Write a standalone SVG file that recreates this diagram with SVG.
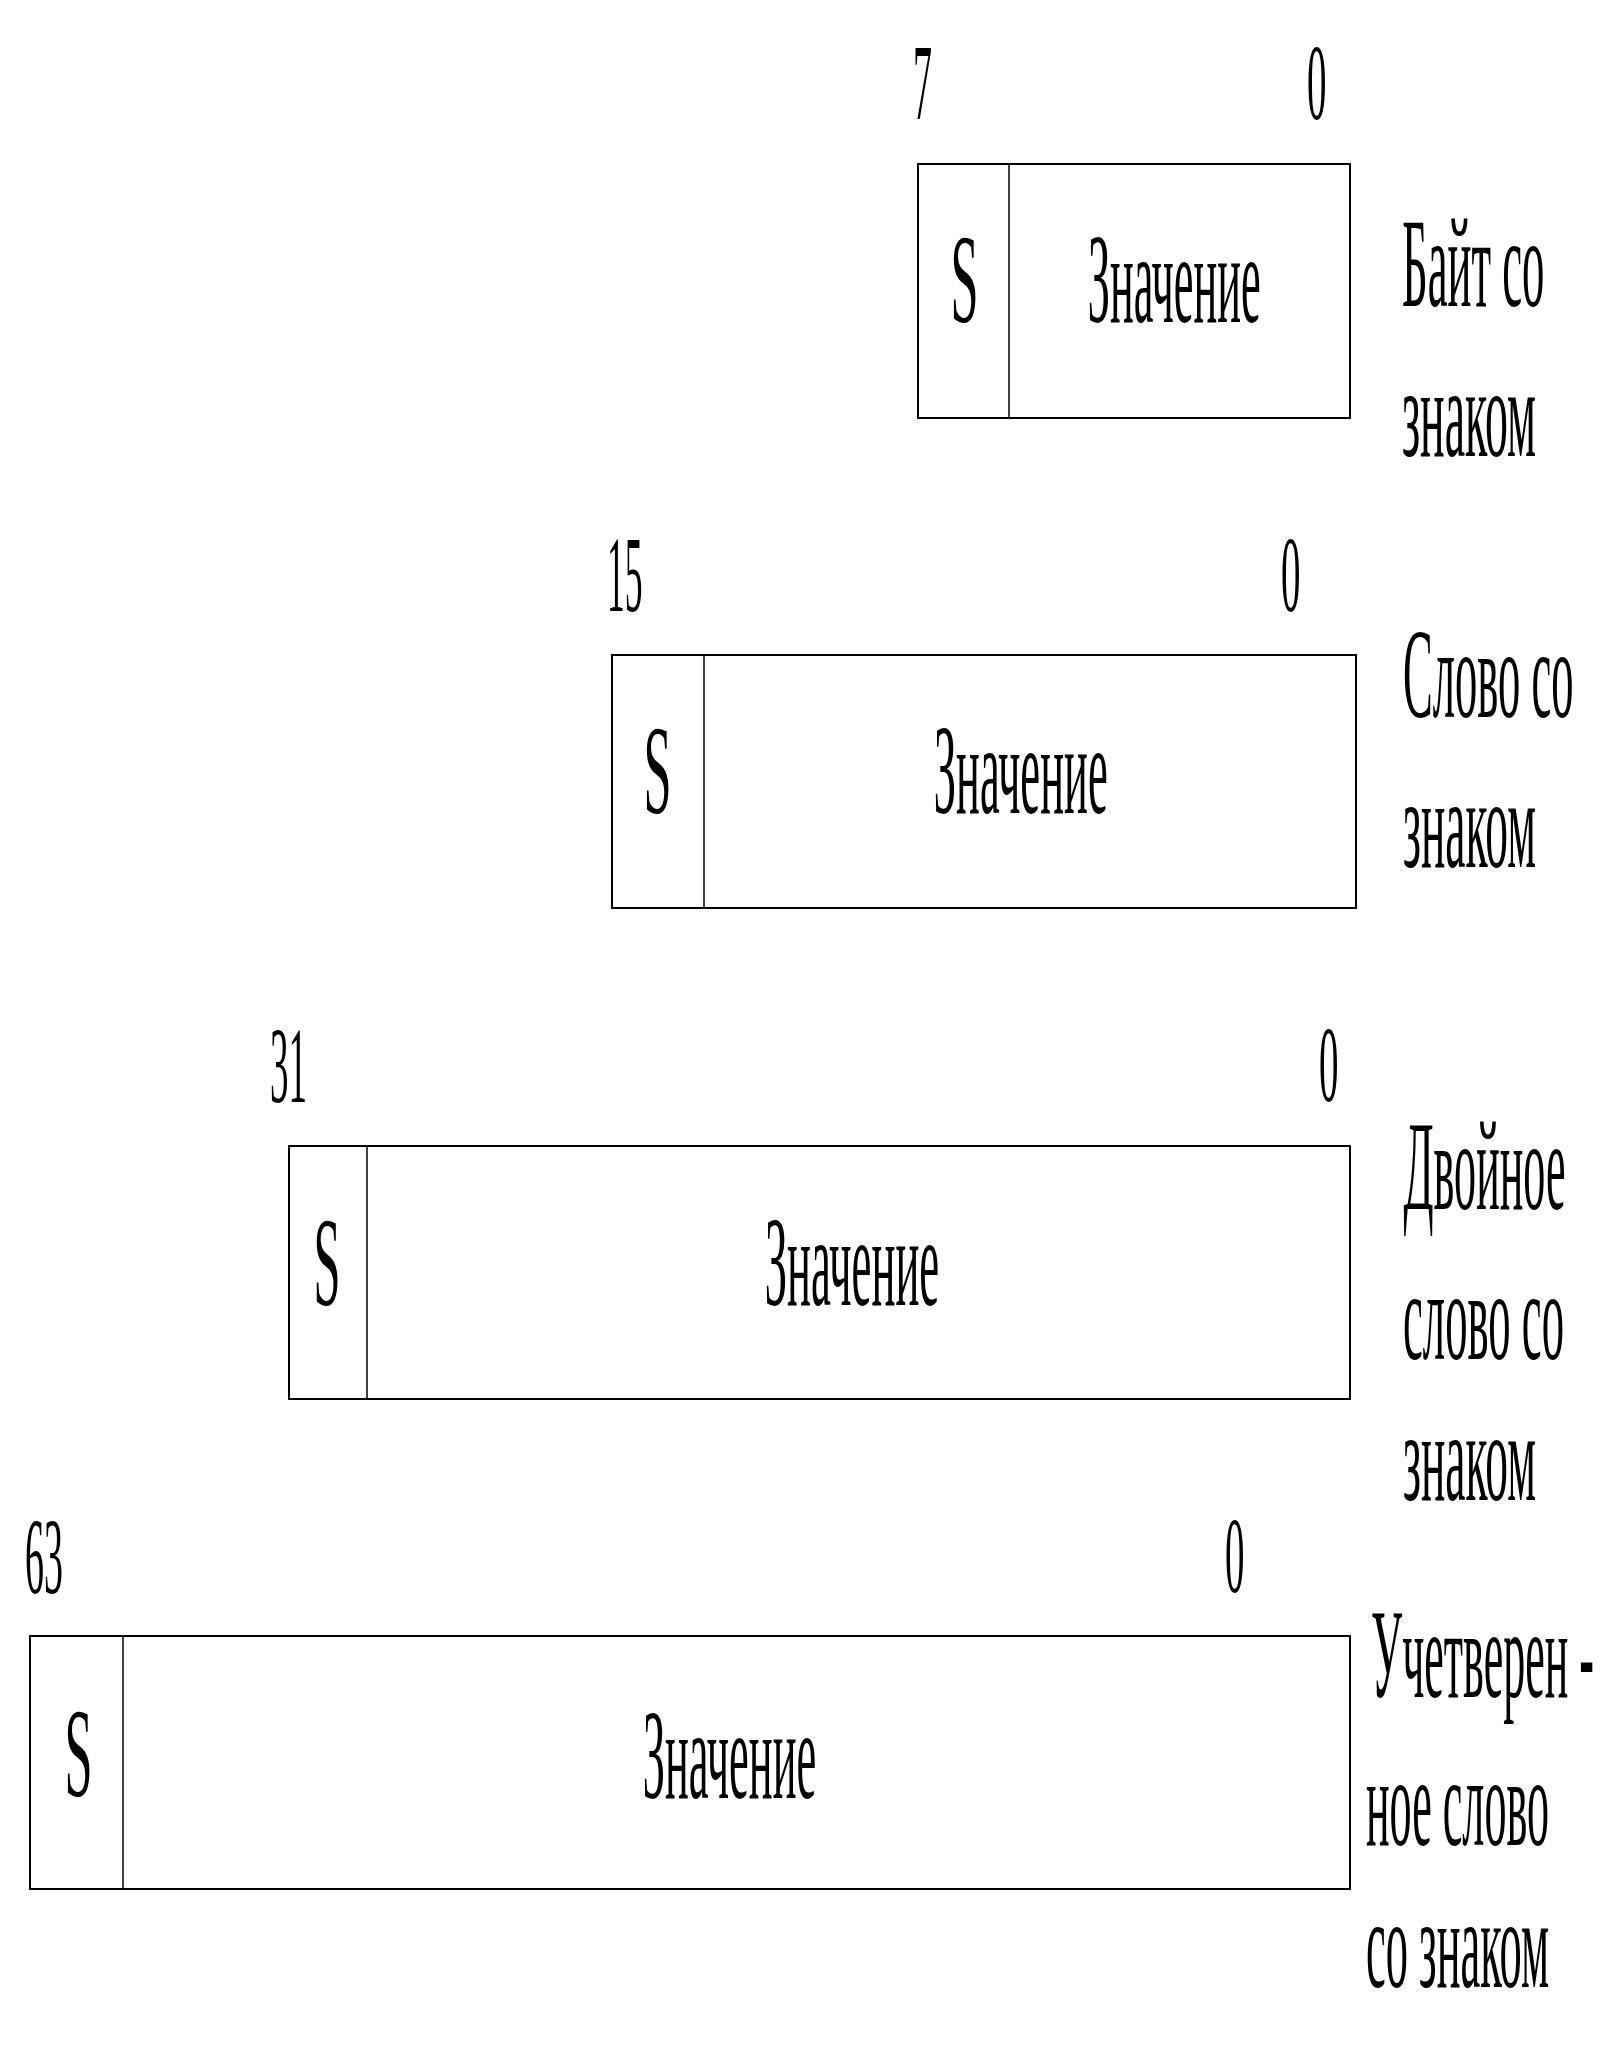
<svg xmlns="http://www.w3.org/2000/svg" width="1623" height="2048" viewBox="0 0 1623 2048">
<style>
  .bg { fill: #ffffff; }
  .box { fill: none; stroke: #000; stroke-width: 2; }
  .div { stroke: #000; stroke-width: 1.5; }
  .t { font-family: "Liberation Serif", "Times New Roman", serif; fill: #000; font-size: 128px; }
  .n { font-family: "Liberation Serif", "Times New Roman", serif; fill: #000; font-size: 108px; }
</style>
<rect class="bg" x="0" y="0" width="1623" height="2048"/>

<g id="byte">
  <text class="n" transform="translate(913,118.5) scale(0.35,1)" x="0" y="0" textLength="54.3" lengthAdjust="spacingAndGlyphs">7</text>
  <text class="n" transform="translate(1307,118.5) scale(0.35,1)" x="0" y="0" textLength="55.7" lengthAdjust="spacingAndGlyphs">0</text>
  <rect class="box" x="918" y="164" width="432" height="254"/>
  <line class="div" x1="1009" y1="164" x2="1009" y2="418"/>
  <text class="t" transform="translate(964.5,322) scale(0.35,1)" x="0" y="0" text-anchor="middle" textLength="80" lengthAdjust="spacingAndGlyphs">S</text>
  <text class="t" transform="translate(1087.7,322) scale(0.35,1)" x="0" y="0" textLength="494.3" lengthAdjust="spacingAndGlyphs">Значение</text>
  <text class="t" transform="translate(1402,306) scale(0.35,1)" x="0" y="0" textLength="407.1" lengthAdjust="spacingAndGlyphs">Байт со</text>
  <text class="t" transform="translate(1402,456) scale(0.35,1)" x="0" y="0" textLength="382.9" lengthAdjust="spacingAndGlyphs">знаком</text>
</g>

<g id="word">
  <text class="n" transform="translate(607,611) scale(0.35,1)" x="0" y="0" textLength="101.7" lengthAdjust="spacingAndGlyphs">15</text>
  <text class="n" transform="translate(1281,610.5) scale(0.35,1)" x="0" y="0" textLength="55.7" lengthAdjust="spacingAndGlyphs">0</text>
  <rect class="box" x="612" y="655" width="744" height="253"/>
  <line class="div" x1="704" y1="655" x2="704" y2="908"/>
  <text class="t" transform="translate(657.5,813) scale(0.35,1)" x="0" y="0" text-anchor="middle" textLength="80" lengthAdjust="spacingAndGlyphs">S</text>
  <text class="t" transform="translate(933.7,813) scale(0.35,1)" x="0" y="0" textLength="497.1" lengthAdjust="spacingAndGlyphs">Значение</text>
  <text class="t" transform="translate(1403,717) scale(0.35,1)" x="0" y="0" textLength="487.1" lengthAdjust="spacingAndGlyphs">Слово со</text>
  <text class="t" transform="translate(1403,867) scale(0.35,1)" x="0" y="0" textLength="380" lengthAdjust="spacingAndGlyphs">знаком</text>
</g>

<g id="dword">
  <text class="n" transform="translate(270,1101.5) scale(0.35,1)" x="0" y="0" textLength="105.7" lengthAdjust="spacingAndGlyphs">31</text>
  <text class="n" transform="translate(1319,1101) scale(0.35,1)" x="0" y="0" textLength="55.7" lengthAdjust="spacingAndGlyphs">0</text>
  <rect class="box" x="289" y="1146" width="1061" height="253"/>
  <line class="div" x1="367" y1="1146" x2="367" y2="1399"/>
  <text class="t" transform="translate(327,1304.5) scale(0.35,1)" x="0" y="0" text-anchor="middle" textLength="77.1" lengthAdjust="spacingAndGlyphs">S</text>
  <text class="t" transform="translate(764.7,1305) scale(0.35,1)" x="0" y="0" textLength="498.6" lengthAdjust="spacingAndGlyphs">Значение</text>
  <text class="t" transform="translate(1403.5,1209) scale(0.35,1)" x="0" y="0" textLength="462.9" lengthAdjust="spacingAndGlyphs">Двойное</text>
  <text class="t" transform="translate(1403,1359) scale(0.35,1)" x="0" y="0" textLength="460" lengthAdjust="spacingAndGlyphs">слово со</text>
  <text class="t" transform="translate(1403,1500) scale(0.35,1)" x="0" y="0" textLength="380" lengthAdjust="spacingAndGlyphs">знаком</text>
</g>

<g id="qword">
  <text class="n" transform="translate(25,1592.5) scale(0.35,1)" x="0" y="0" textLength="108.3" lengthAdjust="spacingAndGlyphs">63</text>
  <text class="n" transform="translate(1225,1592) scale(0.35,1)" x="0" y="0" textLength="55.7" lengthAdjust="spacingAndGlyphs">0</text>
  <rect class="box" x="30" y="1636" width="1320" height="253"/>
  <line class="div" x1="123" y1="1636" x2="123" y2="1889"/>
  <text class="t" transform="translate(78.5,1795.5) scale(0.35,1)" x="0" y="0" text-anchor="middle" textLength="80" lengthAdjust="spacingAndGlyphs">S</text>
  <text class="t" transform="translate(642.7,1798) scale(0.35,1)" x="0" y="0" textLength="495.7" lengthAdjust="spacingAndGlyphs">Значение</text>
  <text class="t" transform="translate(1371,1697) scale(0.35,1)" x="0" y="0" textLength="637.1" lengthAdjust="spacingAndGlyphs">Учетверен -</text>
  <text class="t" transform="translate(1366,1845) scale(0.35,1)" x="0" y="0" textLength="522.9" lengthAdjust="spacingAndGlyphs">ное слово</text>
  <text class="t" transform="translate(1366,1987) scale(0.35,1)" x="0" y="0" textLength="522.9" lengthAdjust="spacingAndGlyphs">со знаком</text>
</g>

<g id="connectors"></g>
</svg>
